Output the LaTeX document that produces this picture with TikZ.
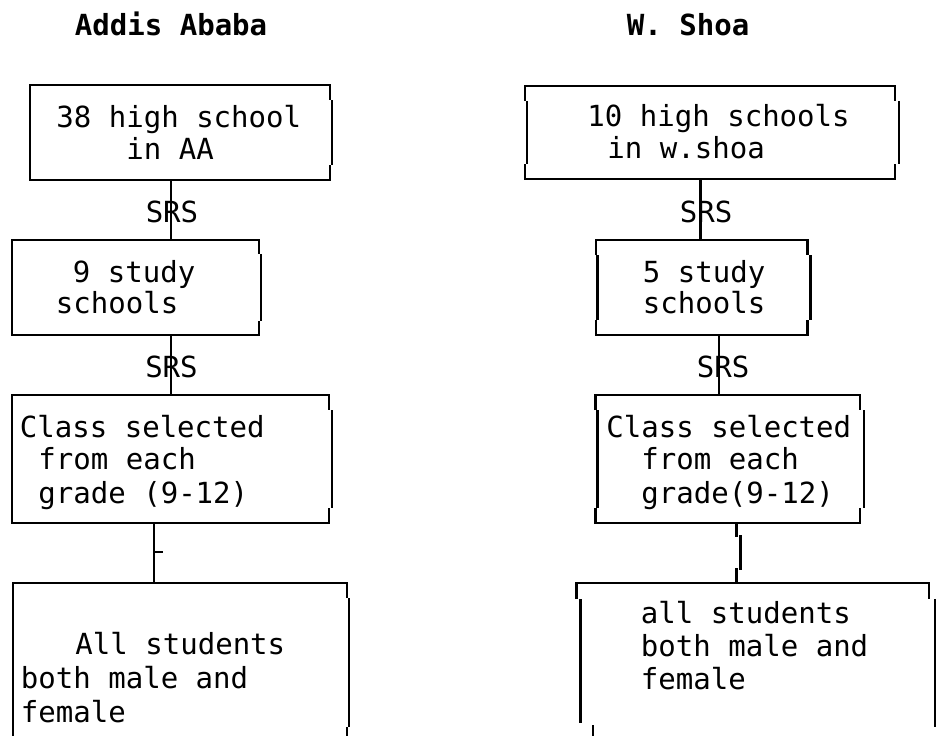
\documentclass[tikz,border=0pt]{standalone}
\usepackage{fontspec}
\setmonofont{DejaVu Sans Mono}
\usetikzlibrary{fit}
\tikzset{
  lbl/.style={font=\ttfamily\fontsize{21.8pt}{24pt}\selectfont, inner sep=0pt, anchor=base west},
  ttl/.style={font=\ttfamily\bfseries\fontsize{21.8pt}{24pt}\selectfont, inner sep=0pt, anchor=base west},
  srs/.style={font=\ttfamily\fontsize{21.8pt}{24pt}\selectfont, inner sep=0pt, anchor=base},
  edge/.style={line width=1.9pt, black},
  area/.style={inner sep=0pt, draw=none}
}
% name, Lcorner, Lmid, Rcorner, Rmid, top, bottom, corner length
\newcommand\jagbox[8]{%
  \node[area, fit={(#2,#6) (#4,#7)}] (#1) {};
  \draw[edge] (#2,{#6+#8}) -- (#2,#6) -- (#4,#6) -- (#4,{#6+#8});
  \draw[edge] (#3,{#6+#8}) -- (#3,{#7-#8});
  \draw[edge] (#5,{#6+#8}) -- (#5,{#7-#8});
  \draw[edge] (#2,{#7-#8}) -- (#2,#7) -- (#4,#7) -- (#4,{#7-#8});
}
\begin{document}
\begin{tikzpicture}[x=0.75pt,y=-0.75pt]
\useasboundingbox (0,0) rectangle (940,736);
\clip (0,0) rectangle (940,736);

% titles
\node[ttl] (tA) at (74.5,35) {Addis Ababa};
\node[ttl] (tW) at (626.5,35) {W. Shoa};

% left column boxes
\jagbox{b1}{30}{30}{330}{332}{85}{180}{15}
\node[lbl] (b1a) at (56,127) {38 high school};
\node[lbl] (b1b) at (126,159.5) {in AA};

\jagbox{b3}{12}{12}{259}{261}{240}{335}{14}
\node[lbl] (b3a) at (72.5,282) {9 study};
\node[lbl] (b3b) at (55.5,313) {schools};

\jagbox{b5}{12}{12}{329}{332}{395}{523}{15}
\node[lbl] (b5a) at (19.5,437) {Class selected};
\node[lbl] (b5b) at (38,469) {from each};
\node[lbl] (b5c) at (38,503) {grade (9-12)};

% bottom-left open box
\node[area, fit={(13,583) (349,745)}] (b7) {};
\draw[edge] (13,745) -- (13,583) -- (347,583) -- (347,598);
\draw[edge] (349,598) -- (349,727);
\draw[edge] (347,727) -- (347,745);
\node[lbl] (b7a) at (75,654) {All students};
\node[lbl] (b7b) at (20.5,688) {both male and};
\node[lbl] (b7c) at (20.5,722) {female};

% right column boxes
\jagbox{b2}{525}{527}{895}{899}{86}{179}{15}
\node[lbl] (b2a) at (587,126) {10 high schools};
\node[lbl] (b2b) at (607,158) {in w.shoa};

\jagbox{b4}{596}{597.7}{807.7}{810.7}{240}{335}{15}
\node[lbl] (b4a) at (642.5,282) {5 study};
\node[lbl] (b4b) at (642.5,313) {schools};

\jagbox{b6}{595.7}{597.7}{860}{864}{395}{523}{15}
\node[lbl] (b6a) at (606,437) {Class selected};
\node[lbl] (b6b) at (641,469) {from each};
\node[lbl] (b6c) at (641,503) {grade(9-12)};

% bottom-right open box
\node[area, fit={(576.7,583) (935,745)}] (b8) {};
\draw[edge] (576.7,599) -- (576.7,583) -- (929,583) -- (929,599);
\draw[edge] (580.7,599) -- (580.7,723);
\draw[edge] (593,725) -- (593,745);
\draw[edge] (935,599) -- (935,727);
\node[lbl] (b8a) at (640.5,623) {all students};
\node[lbl] (b8b) at (640.5,656) {both male and};
\node[lbl] (b8c) at (640.5,689) {female};

% connectors, left
\coordinate (cA) at (171,0);
\draw[edge] (b1.south -| cA) -- (b3.north -| cA);
\node[srs] (s1) at (172,222) {SRS};
\draw[edge] (b3.south -| cA) -- (b5.north -| cA);
\node[srs] (s2) at (171.5,377) {SRS};
\coordinate (cB) at (154,0);
\coordinate (tick) at (154,552);
\draw[edge] (b5.south -| cB) -- (b7.north -| cB);
\draw[edge] (tick) -- ++(9,0);

% connectors, right
\coordinate (cC) at (700.7,0);
\draw[edge] (b2.south -| cC) -- (b4.north -| cC);
\node[srs] (s3) at (706,222) {SRS};
\coordinate (cD) at (719,0);
\draw[edge] (b4.south -| cD) -- (b6.north -| cD);
\node[srs] (s4) at (723,377) {SRS};
\coordinate (cE) at (736.7,0);
\draw[edge] (b6.south -| cE) -- ++(0,14) ++(4,-2) -- ++(0,35) ++(-4,-2) -- (b8.north -| cE);
\end{tikzpicture}
\end{document}
